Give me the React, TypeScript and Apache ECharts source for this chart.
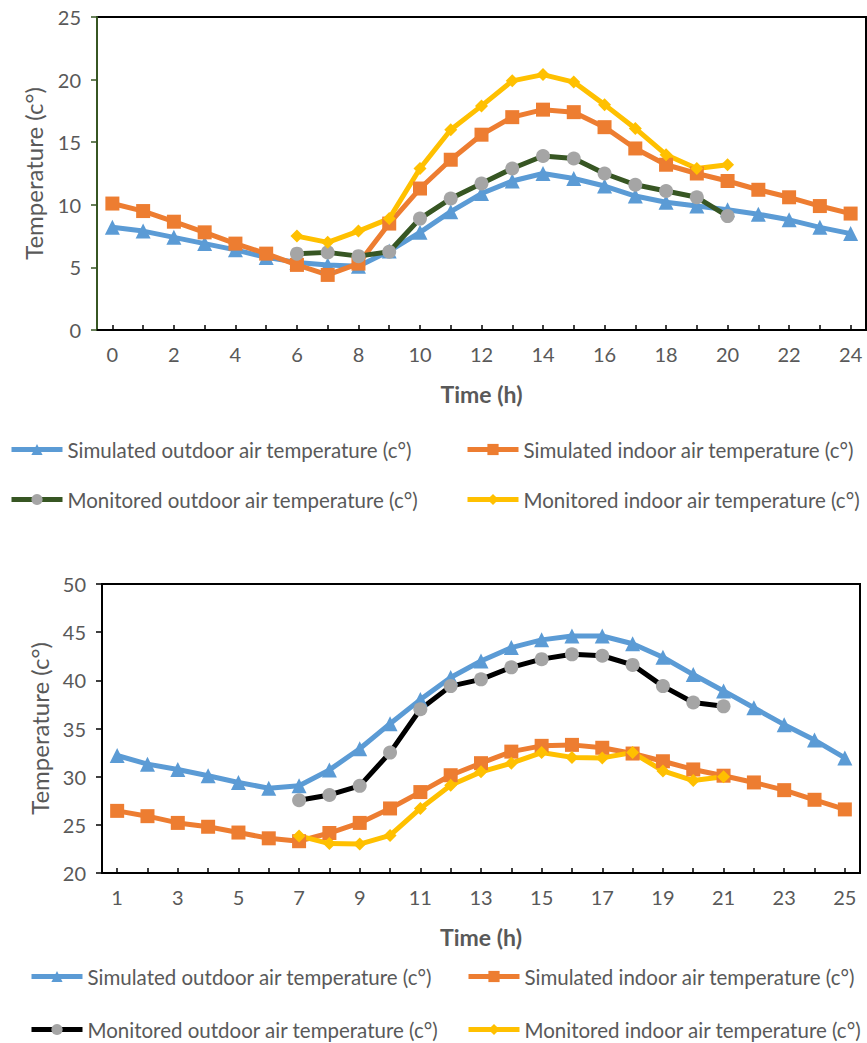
import React, { useEffect, useRef } from "react";
import * as echarts from "echarts";

const FONT = "Lato, 'Open Sans', sans-serif";

const topHours = ["0","1","2","3","4","5","6","7","8","9","10","11","12","13","14","15","16","17","18","19","20","21","22","23","24"];
const topSimOut = [8.2, 7.9, 7.4, 6.9, 6.4, 5.8, 5.4, 5.2, 5.1, 6.3, 7.8, 9.45, 10.9, 11.9, 12.5, 12.1, 11.5, 10.7, 10.2, 9.9, 9.6, 9.25, 8.8, 8.2, 7.7];
const topSimIn = [10.1, 9.5, 8.65, 7.8, 6.9, 6.1, 5.2, 4.4, 5.3, 8.5, 11.3, 13.6, 15.6, 17.0, 17.6, 17.4, 16.2, 14.5, 13.2, 12.5, 11.9, 11.2, 10.6, 9.9, 9.3];
const topMonOut = [null, null, null, null, null, null, 6.1, 6.2, 5.9, 6.25, 8.9, 10.5, 11.7, 12.9, 13.9, 13.7, 12.5, 11.6, 11.1, 10.6, 9.1, null, null, null, null];
const topMonIn = [null, null, null, null, null, null, 7.5, 7.0, 7.9, 8.9, 12.9, 16.0, 17.9, 19.9, 20.4, 19.8, 18.0, 16.1, 14.0, 12.9, 13.2, null, null, null, null];

const botHours = ["1","2","3","4","5","6","7","8","9","10","11","12","13","14","15","16","17","18","19","20","21","22","23","24","25"];
const botSimOut = [32.2, 31.3, 30.75, 30.1, 29.4, 28.8, 29.05, 30.7, 32.9, 35.5, 38.0, 40.3, 42.0, 43.4, 44.2, 44.6, 44.6, 43.8, 42.4, 40.6, 38.9, 37.15, 35.4, 33.8, 31.95];
const botSimIn = [26.45, 25.9, 25.2, 24.8, 24.2, 23.6, 23.3, 24.15, 25.2, 26.7, 28.4, 30.15, 31.4, 32.6, 33.2, 33.3, 33.0, 32.4, 31.6, 30.75, 30.1, 29.4, 28.6, 27.6, 26.6];
const botMonOut = [null, null, null, null, null, null, 27.55, 28.1, 29.05, 32.5, 37.0, 39.4, 40.1, 41.35, 42.2, 42.7, 42.55, 41.6, 39.4, 37.7, 37.3, null, null, null, null];
const botMonIn = [null, null, null, null, null, null, 23.85, 23.05, 23.0, 23.9, 26.7, 29.1, 30.5, 31.4, 32.5, 32.0, 31.95, 32.5, 30.6, 29.6, 30.0, null, null, null, null];

const names = [
  "Simulated outdoor air temperature (c°)",
  "Simulated indoor air temperature (c°)",
  "Monitored outdoor air temperature (c°)",
  "Monitored indoor air temperature (c°)",
];
const topNames = names;
const botNames = names.map((n) => n + " ");

const BLUE = "#5B9BD5";
const ORANGE = "#ED7D31";
const GREEN = "#375623";
const GRAY = "#A5A5A5";
const YELLOW = "#FFC000";
const TEXT = "#595959";

function line(name: string, data: any[], xi: number, color: string, markerColor: string, symbol: string, size: number) {
  return {
    type: "line",
    name,
    xAxisIndex: xi,
    yAxisIndex: xi,
    data,
    symbol,
    symbolSize: size,
    showAllSymbol: true,
    connectNulls: false,
    lineStyle: { color, width: 5 },
    itemStyle: { color: markerColor },
    emphasis: { disabled: true },
  };
}

function legend(name: string, left: number, top: number) {
  return {
    data: [name],
    left,
    top,
    padding: 0,
    itemWidth: 51,
    itemHeight: 14,
    selectedMode: false,
    lineStyle: { width: 5 },
    formatter: (n: string) => n.trim(),
    textStyle: { fontFamily: FONT, fontSize: 20.5, color: TEXT },
  };
}

function xAxis(gi: number, data: string[]) {
  return {
    type: "category",
    gridIndex: gi,
    data,
    boundaryGap: true,
    axisLine: { show: true, lineStyle: { color: "#000", width: 2 } },
    axisTick: { show: true, inside: true, length: 5, interval: 0, alignWithLabel: true, lineStyle: { color: "#000", width: 1.5 } },
    axisLabel: { interval: 1, margin: 14, color: TEXT, fontFamily: FONT, fontSize: 20 },
    splitLine: { show: false },
    name: "Time (h)",
    nameLocation: "middle",
    nameGap: 52,
    nameTextStyle: { fontFamily: FONT, fontSize: 23, fontWeight: "bold", color: TEXT },
  };
}

function yAxis(gi: number, min: number, max: number, color: string, gap: number) {
  return {
    type: "value",
    gridIndex: gi,
    min,
    max,
    interval: 5,
    axisLine: { show: true, lineStyle: { color, width: 2 } },
    axisTick: { show: true, length: 6, lineStyle: { color, width: 1.5 } },
    axisLabel: { margin: 16, color: TEXT, fontFamily: FONT, fontSize: 20 },
    splitLine: { show: false },
    name: "Temperature (c°)",
    nameLocation: "middle",
    nameGap: gap,
    nameTextStyle: { fontFamily: FONT, fontSize: 24, color: TEXT },
  };
}

export default function App() {
  const ref = useRef<HTMLDivElement>(null);
  useEffect(() => {
    if (!ref.current) return;
    const chart = echarts.init(ref.current, null, { renderer: "svg" });
    chart.setOption({
      animation: false,
      backgroundColor: "#fff",
      grid: [
        { left: 97, top: 17, width: 769, height: 313, show: true, borderColor: "#000", borderWidth: 2, containLabel: false },
        { left: 102, top: 584, width: 758, height: 289, show: true, borderColor: "#000", borderWidth: 2, containLabel: false },
      ],
      xAxis: [xAxis(0, topHours), xAxis(1, botHours)],
      yAxis: [yAxis(0, 0, 25, GREEN, 52), yAxis(1, 20, 50, "#000", 50)],
      legend: [
        legend(topNames[0], 9, 439),
        legend(topNames[1], 465, 439),
        legend(topNames[2], 9, 489),
        legend(topNames[3], 465, 489),
        legend(botNames[0], 29, 966),
        legend(botNames[1], 466, 966),
        legend(botNames[2], 29, 1019),
        legend(botNames[3], 466, 1019),
      ],
      series: [
        line(topNames[0], topSimOut, 0, BLUE, BLUE, "triangle", 15),
        line(topNames[1], topSimIn, 0, ORANGE, ORANGE, "rect", 14),
        line(topNames[2], topMonOut, 0, GREEN, GRAY, "circle", 14),
        line(topNames[3], topMonIn, 0, YELLOW, YELLOW, "diamond", 13),
        line(botNames[0], botSimOut, 1, BLUE, BLUE, "triangle", 15),
        line(botNames[1], botSimIn, 1, ORANGE, ORANGE, "rect", 14),
        line(botNames[2], botMonOut, 1, "#000", GRAY, "circle", 14),
        line(botNames[3], botMonIn, 1, YELLOW, YELLOW, "diamond", 13),
      ],
    });
    return () => chart.dispose();
  }, []);
  return (
    <div
      ref={ref}
      style={{ position: "fixed", left: 0, top: 0, width: 867, height: 1043, background: "#fff" }}
    />
  );
}
